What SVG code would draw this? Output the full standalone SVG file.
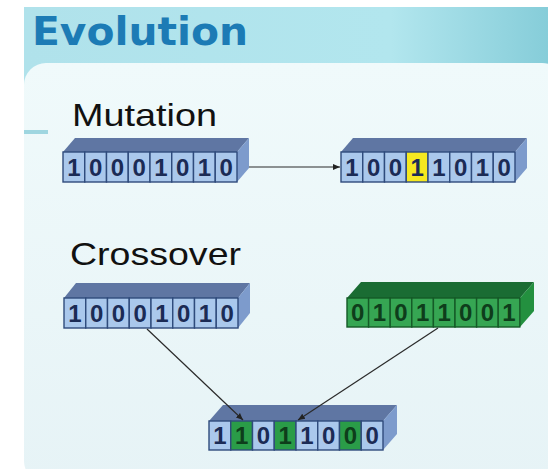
<svg xmlns="http://www.w3.org/2000/svg" width="548" height="469" viewBox="0 0 548 469">
<defs>
<linearGradient id="ban" x1="0" y1="0" x2="1" y2="0">
<stop offset="0" stop-color="#b0e2eb"/>
<stop offset="0.7" stop-color="#b2e6ee"/>
<stop offset="1" stop-color="#86cdd9"/>
</linearGradient>
<linearGradient id="pan" x1="0" y1="0" x2="0" y2="1">
<stop offset="0" stop-color="#f0fafb"/>
<stop offset="1" stop-color="#e6f3f6"/>
</linearGradient>
<marker id="ah" markerWidth="8" markerHeight="8" refX="7" refY="4" orient="auto" markerUnits="userSpaceOnUse">
<path d="M0,1 L7,4 L0,7 Z" fill="#222"/>
</marker>
<style>
.ttl{font-family:"DejaVu Sans",sans-serif;font-weight:bold;font-size:39px;fill:#1c7bb5}
.hd{font-family:"Liberation Sans",Arial,sans-serif;font-size:32px;fill:#111}
.bt{fill:#5f76a3}
.bs{fill:#7d9bcc}
.bc{fill:#aac8ec;stroke:#2f4b7c;stroke-width:1.4}
.gt{fill:#1a6c33}
.gs{fill:#23903f}
.gc{fill:#36a653;stroke:#145a27;stroke-width:1.4}
.yc{fill:#f5e820;stroke:#2f4b7c;stroke-width:1.4}
.gx{fill:#2a9c48;stroke:#2f4b7c;stroke-width:1.4}
.d{font-family:"Liberation Sans",Arial,sans-serif;font-weight:bold;font-size:24px;fill:#1b2b55;text-anchor:middle}
.dg{font-family:"Liberation Sans",Arial,sans-serif;font-weight:bold;font-size:24px;fill:#0e3d1b;text-anchor:middle}
.con{stroke:#2a2a2a;stroke-width:1.2;fill:none}
</style>
</defs>
<rect width="548" height="469" fill="#ffffff"/>
<rect x="24" y="7" width="524" height="90" fill="url(#ban)"/>
<rect x="24" y="63" width="540" height="420" rx="22" fill="url(#pan)"/>
<rect x="24" y="130" width="24" height="4" fill="#9fd6e0"/>
<text class="ttl" x="32" y="45" textLength="216" lengthAdjust="spacingAndGlyphs">Evolution</text>
<text class="hd" x="72" y="126" textLength="145" lengthAdjust="spacingAndGlyphs">Mutation</text>
<text class="hd" x="70" y="265" textLength="171" lengthAdjust="spacingAndGlyphs">Crossover</text>

<g id="mut-parent" transform="translate(63,152)">
<polygon class="bt" points="0,0 12,-14 186,-14 174,0"/>
<polygon class="bs" points="174,0 186,-14 186,16 174,30"/>
<rect class="bc" x="0" y="0" width="21.75" height="30"/><rect class="bc" x="21.75" y="0" width="21.75" height="30"/><rect class="bc" x="43.5" y="0" width="21.75" height="30"/><rect class="bc" x="65.25" y="0" width="21.75" height="30"/><rect class="bc" x="87" y="0" width="21.75" height="30"/><rect class="bc" x="108.75" y="0" width="21.75" height="30"/><rect class="bc" x="130.5" y="0" width="21.75" height="30"/><rect class="bc" x="152.25" y="0" width="21.75" height="30"/>
<text class="d" y="24"><tspan x="10.9">1</tspan><tspan x="32.6">0</tspan><tspan x="54.4">0</tspan><tspan x="76.1">0</tspan><tspan x="97.9">1</tspan><tspan x="119.6">0</tspan><tspan x="141.4">1</tspan><tspan x="163.1">0</tspan></text>
</g>

<g id="mut-child" transform="translate(341,152)">
<polygon class="bt" points="0,0 12,-14 186,-14 174,0"/>
<polygon class="bs" points="174,0 186,-14 186,16 174,30"/>
<rect class="bc" x="0" y="0" width="21.75" height="30"/><rect class="bc" x="21.75" y="0" width="21.75" height="30"/><rect class="bc" x="43.5" y="0" width="21.75" height="30"/><rect class="yc" x="65.25" y="0" width="21.75" height="30"/><rect class="bc" x="87" y="0" width="21.75" height="30"/><rect class="bc" x="108.75" y="0" width="21.75" height="30"/><rect class="bc" x="130.5" y="0" width="21.75" height="30"/><rect class="bc" x="152.25" y="0" width="21.75" height="30"/>
<text class="d" y="24"><tspan x="10.9">1</tspan><tspan x="32.6">0</tspan><tspan x="54.4">0</tspan><tspan x="76.1">1</tspan><tspan x="97.9">1</tspan><tspan x="119.6">0</tspan><tspan x="141.4">1</tspan><tspan x="163.1">0</tspan></text>
</g>

<g id="cross-parent-a" transform="translate(64,298)">
<polygon class="bt" points="0,0 12,-15 186,-15 174,0"/>
<polygon class="bs" points="174,0 186,-15 186,15 174,30"/>
<rect class="bc" x="0" y="0" width="21.75" height="30"/><rect class="bc" x="21.75" y="0" width="21.75" height="30"/><rect class="bc" x="43.5" y="0" width="21.75" height="30"/><rect class="bc" x="65.25" y="0" width="21.75" height="30"/><rect class="bc" x="87" y="0" width="21.75" height="30"/><rect class="bc" x="108.75" y="0" width="21.75" height="30"/><rect class="bc" x="130.5" y="0" width="21.75" height="30"/><rect class="bc" x="152.25" y="0" width="21.75" height="30"/>
<text class="d" y="24"><tspan x="10.9">1</tspan><tspan x="32.6">0</tspan><tspan x="54.4">0</tspan><tspan x="76.1">0</tspan><tspan x="97.9">1</tspan><tspan x="119.6">0</tspan><tspan x="141.4">1</tspan><tspan x="163.1">0</tspan></text>
</g>

<g id="cross-parent-b" transform="translate(347,298)">
<polygon class="gt" points="0,0 14,-16 187,-16 173,0"/>
<polygon class="gs" points="173,0 187,-16 187,13 173,29"/>
<rect class="gc" x="0" y="0" width="21.6" height="29"/><rect class="gc" x="21.6" y="0" width="21.6" height="29"/><rect class="gc" x="43.2" y="0" width="21.6" height="29"/><rect class="gc" x="64.8" y="0" width="21.6" height="29"/><rect class="gc" x="86.4" y="0" width="21.6" height="29"/><rect class="gc" x="108" y="0" width="21.6" height="29"/><rect class="gc" x="129.6" y="0" width="21.6" height="29"/><rect class="gc" x="151.2" y="0" width="21.6" height="29"/>
<text class="dg" y="23"><tspan x="10.8">0</tspan><tspan x="32.4">1</tspan><tspan x="54">0</tspan><tspan x="75.6">1</tspan><tspan x="97.2">1</tspan><tspan x="118.8">0</tspan><tspan x="140.4">0</tspan><tspan x="162">1</tspan></text>
</g>

<g id="cross-child" transform="translate(209,421)">
<polygon class="bt" points="0,0 14,-16 188,-16 174,0"/>
<polygon class="bs" points="174,0 188,-16 188,13 174,29"/>
<rect class="bc" x="0" y="0" width="21.75" height="29"/><rect class="gx" x="21.75" y="0" width="21.75" height="29"/><rect class="bc" x="43.5" y="0" width="21.75" height="29"/><rect class="gx" x="65.25" y="0" width="21.75" height="29"/><rect class="bc" x="87" y="0" width="21.75" height="29"/><rect class="bc" x="108.75" y="0" width="21.75" height="29"/><rect class="gx" x="130.5" y="0" width="21.75" height="29"/><rect class="bc" x="152.25" y="0" width="21.75" height="29"/>
<text class="d" y="23"><tspan x="10.9">1</tspan></text><text class="dg" y="23"><tspan x="32.6">1</tspan></text><text class="d" y="23"><tspan x="54.4">0</tspan></text><text class="dg" y="23"><tspan x="76.1">1</tspan></text><text class="d" y="23"><tspan x="97.9">1</tspan><tspan x="119.6">0</tspan></text><text class="dg" y="23"><tspan x="141.4">0</tspan></text><text class="d" y="23"><tspan x="163.1">0</tspan></text>
</g>

<g id="connectors">
<line class="con" x1="249" y1="167" x2="340" y2="167" marker-end="url(#ah)"/>
<line class="con" x1="147" y1="329" x2="243" y2="420" marker-end="url(#ah)"/>
<line class="con" x1="438" y1="328" x2="298" y2="420" marker-end="url(#ah)"/>
</g>
</svg>
